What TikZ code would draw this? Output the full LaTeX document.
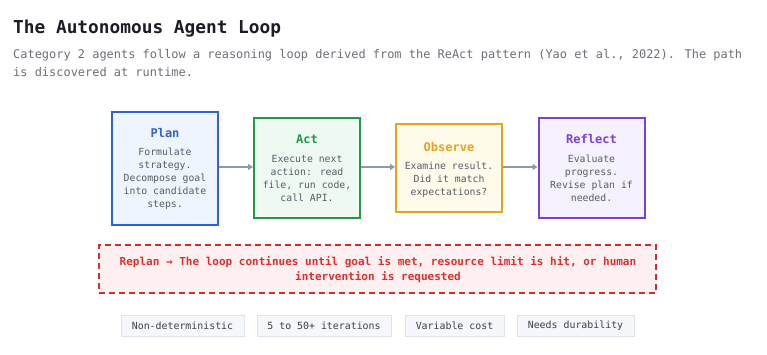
\documentclass[tikz,border=0pt]{standalone}
\usepackage{fontspec}
\newfontfamily\mono{DejaVu Sans Mono}
\usetikzlibrary{arrows.meta}
\definecolor{titlec}{HTML}{1B1C26}
\definecolor{subc}{HTML}{6B6F78}
\definecolor{bodyc}{HTML}{565C66}
\definecolor{bluec}{HTML}{2F62D6}
\definecolor{bluef}{HTML}{EFF5FE}
\definecolor{greenc}{HTML}{1F9A4B}
\definecolor{greenf}{HTML}{EEFAF1}
\definecolor{orangec}{HTML}{EAA11F}
\definecolor{orangef}{HTML}{FFFBEA}
\definecolor{purplec}{HTML}{7A3FDB}
\definecolor{purplef}{HTML}{F5F1FE}
\definecolor{redc}{HTML}{CC2F2F}
\definecolor{redt}{HTML}{D9302F}
\definecolor{redf}{HTML}{FEF0F0}
\definecolor{arrowc}{HTML}{8E99A8}
\definecolor{tagf}{HTML}{F5F7FA}
\definecolor{tagd}{HTML}{DDE3EA}
\definecolor{tagt}{HTML}{3A3F4A}
\tikzset{
  stepbox/.style={draw, line width=2pt, minimum width=106pt, inner sep=0pt},
  boxtitle/.style={inner sep=0pt, anchor=base, font=\mono\bfseries\fontsize{12}{13}\selectfont},
  boxbody/.style={inner sep=0pt, align=center, text=bodyc, font=\mono\fontsize{9.8}{13}\selectfont},
  flow/.style={draw=arrowc, line width=1.6pt, -{Triangle[length=5pt,width=6pt]}, shorten >=0pt},
  tag/.style={draw=tagd, fill=tagf, line width=0.8pt, minimum height=21pt, inner sep=0pt, text=tagt, font=\mono\fontsize{9.9}{12}\selectfont},
}
\begin{document}
\begin{tikzpicture}[x=1pt,y=-1pt]
\useasboundingbox[fill=white] (0,0) rectangle (767,355);
% title
\node[inner sep=0pt, anchor=base west, text=titlec, font=\mono\bfseries\fontsize{17.8}{20}\selectfont] (title) at (13,33.5) {The Autonomous Agent Loop};
\node[inner sep=0pt, anchor=base west, text=subc, font=\mono\fontsize{11.95}{18}\selectfont] (sub1) at (13,59) {Category 2 agents follow a reasoning loop derived from the ReAct pattern (Yao et al., 2022). The path};
\node[inner sep=0pt, anchor=base west, text=subc, font=\mono\fontsize{11.95}{18}\selectfont] (sub2) at (13,77) {is discovered at runtime.};
% boxes
\node[stepbox, draw=bluec, fill=bluef, minimum height=113pt] (plan) at (165,168.5) {};
\node[stepbox, draw=greenc, fill=greenf, minimum height=100pt] (act) at (307,168) {};
\node[stepbox, draw=orangec, fill=orangef, minimum height=88pt] (observe) at (449,168) {};
\node[stepbox, draw=purplec, fill=purplef, minimum height=100pt] (reflect) at (591.5,168) {};
% titles
\node[boxtitle, text=bluec] (planT) at (165,137.4) {Plan};
\node[boxtitle, text=greenc] (actT) at (307,143.4) {Act};
\node[boxtitle, text=orangec] (observeT) at (449,151.4) {Observe};
\node[boxtitle, text=purplec] (reflectT) at (591.5,143.4) {Reflect};
% bodies
\node[boxbody] (planB) at (165,178.5) {Formulate\\strategy.\\Decompose goal\\into candidate\\steps.};
\node[boxbody] (actB) at (307,178) {Execute next\\action: read\\file, run code,\\call API.};
\node[boxbody] (observeB) at (449,179.5) {Examine result.\\Did it match\\expectations?};
\node[boxbody] (reflectB) at (591.5,178) {Evaluate\\progress.\\Revise plan if\\needed.};
% arrows
\draw[flow] (plan.east |- 0,167) -- (act.west |- 0,167);
\draw[flow] (act.east |- 0,167) -- (observe.west |- 0,167);
\draw[flow] (observe.east |- 0,167) -- (reflect.west |- 0,167);
% replan
\node[draw=redc, fill=redf, line width=2pt, dash pattern=on 6pt off 4pt, minimum width=557pt, minimum height=48pt, inner sep=0pt] (replan) at (377.5,269) {};
\node[inner sep=0pt, align=center, text=redt, font=\mono\bfseries\fontsize{11}{15}\selectfont] (replanT) at (378,270) {Replan → The loop continues until goal is met, resource limit is hit, or human\\intervention is requested};
% tags
\node[tag, minimum width=123pt] (t1) at (182.5,326) {Non-deterministic};
\node[tag, minimum width=134pt] (t2) at (324,326) {5 to 50+ iterations};
\node[tag, minimum width=99pt] (t3) at (454.5,326) {Variable cost};
\node[tag, minimum width=117pt] (t4) at (575.5,326) {Needs durability};
\end{tikzpicture}
\end{document}
